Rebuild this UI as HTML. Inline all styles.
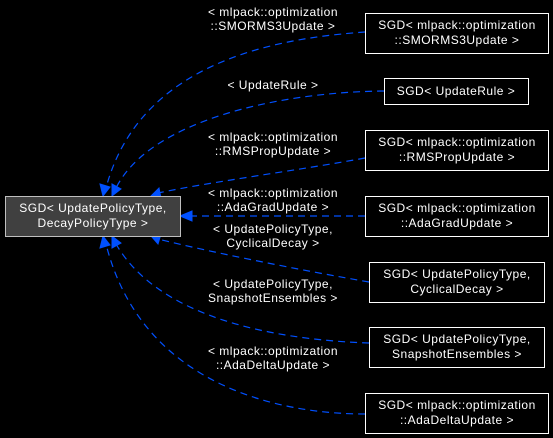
<!DOCTYPE html>
<html><head><meta charset="utf-8"><style>
html,body{margin:0;padding:0;background:#000;}
svg{display:block;}
text{font-family:"Liberation Sans",Helvetica,sans-serif;font-size:12px;fill:#fff;letter-spacing:0.5px;}
</style></head><body>
<svg width="553" height="438" viewBox="0 0 553 438" xmlns="http://www.w3.org/2000/svg">
<rect width="553" height="438" fill="#000"/>
<g fill="none" stroke="#0050ff" stroke-width="1.2" stroke-dasharray="7,5">
<path d="M365,32 C280,38 140,60 106,188"/>
<path d="M384,91 C280,92 150,120 116,188"/>
<path d="M365,158 C300,170 210,182 158,193"/>
<path d="M365,216 L190,216"/>
<path d="M369,282 C300,270 210,252 158,239"/>
<path d="M369,343 C280,340 160,320 116,244"/>
<path d="M365,414 C270,414 140,380 106,244"/>
</g>
<g fill="#0050ff" stroke="#0050ff">
<polygon points="103,196 100,184 110,187"/>
<polygon points="112,196 112,184 121,189"/>
<polygon points="151,196 159,188 161,198"/>
<polygon points="180,216 192,211 192,221"/>
<polygon points="151,236 161,234 158,244"/>
<polygon points="112,236 121,243 112,248"/>
<polygon points="103,236 110,245 100,248"/>
</g>
<rect x="5.5" y="196.5" width="175" height="40" fill="#404040" stroke="#bfbfbf"/>
<text x="93" y="212" text-anchor="middle">SGD&lt; UpdatePolicyType,</text>
<text x="93" y="227" text-anchor="middle">DecayPolicyType &gt;</text>
<g fill="#000" stroke="#fff">
<rect x="365.5" y="13.5" width="183" height="40"/>
<rect x="384.5" y="78.5" width="144" height="26"/>
<rect x="365.5" y="130.5" width="183" height="40"/>
<rect x="365.5" y="196.5" width="183" height="40"/>
<rect x="369.5" y="262.5" width="175" height="40"/>
<rect x="369.5" y="327.5" width="175" height="40"/>
<rect x="365.5" y="393.5" width="183" height="40"/>
</g>
<g text-anchor="middle">
<text x="457" y="29">SGD&lt; mlpack::optimization</text>
<text x="457" y="44">::SMORMS3Update &gt;</text>
<text x="456" y="95">SGD&lt; UpdateRule &gt;</text>
<text x="457" y="146">SGD&lt; mlpack::optimization</text>
<text x="457" y="161">::RMSPropUpdate &gt;</text>
<text x="457" y="212">SGD&lt; mlpack::optimization</text>
<text x="457" y="227">::AdaGradUpdate &gt;</text>
<text x="457" y="278">SGD&lt; UpdatePolicyType,</text>
<text x="457" y="293">CyclicalDecay &gt;</text>
<text x="457" y="343">SGD&lt; UpdatePolicyType,</text>
<text x="457" y="358">SnapshotEnsembles &gt;</text>
<text x="457" y="409">SGD&lt; mlpack::optimization</text>
<text x="457" y="424">::AdaDeltaUpdate &gt;</text>

<text x="273" y="16">&lt; mlpack::optimization</text>
<text x="273" y="30">::SMORMS3Update &gt;</text>
<text x="273" y="89">&lt; UpdateRule &gt;</text>
<text x="273" y="141">&lt; mlpack::optimization</text>
<text x="273" y="155">::RMSPropUpdate &gt;</text>
<text x="273" y="197">&lt; mlpack::optimization</text>
<text x="273" y="211">::AdaGradUpdate &gt;</text>
<text x="273" y="233">&lt; UpdatePolicyType,</text>
<text x="273" y="247">CyclicalDecay &gt;</text>
<text x="273" y="288">&lt; UpdatePolicyType,</text>
<text x="273" y="302">SnapshotEnsembles &gt;</text>
<text x="273" y="355">&lt; mlpack::optimization</text>
<text x="273" y="369">::AdaDeltaUpdate &gt;</text>
</g>
</svg>
</body></html>
